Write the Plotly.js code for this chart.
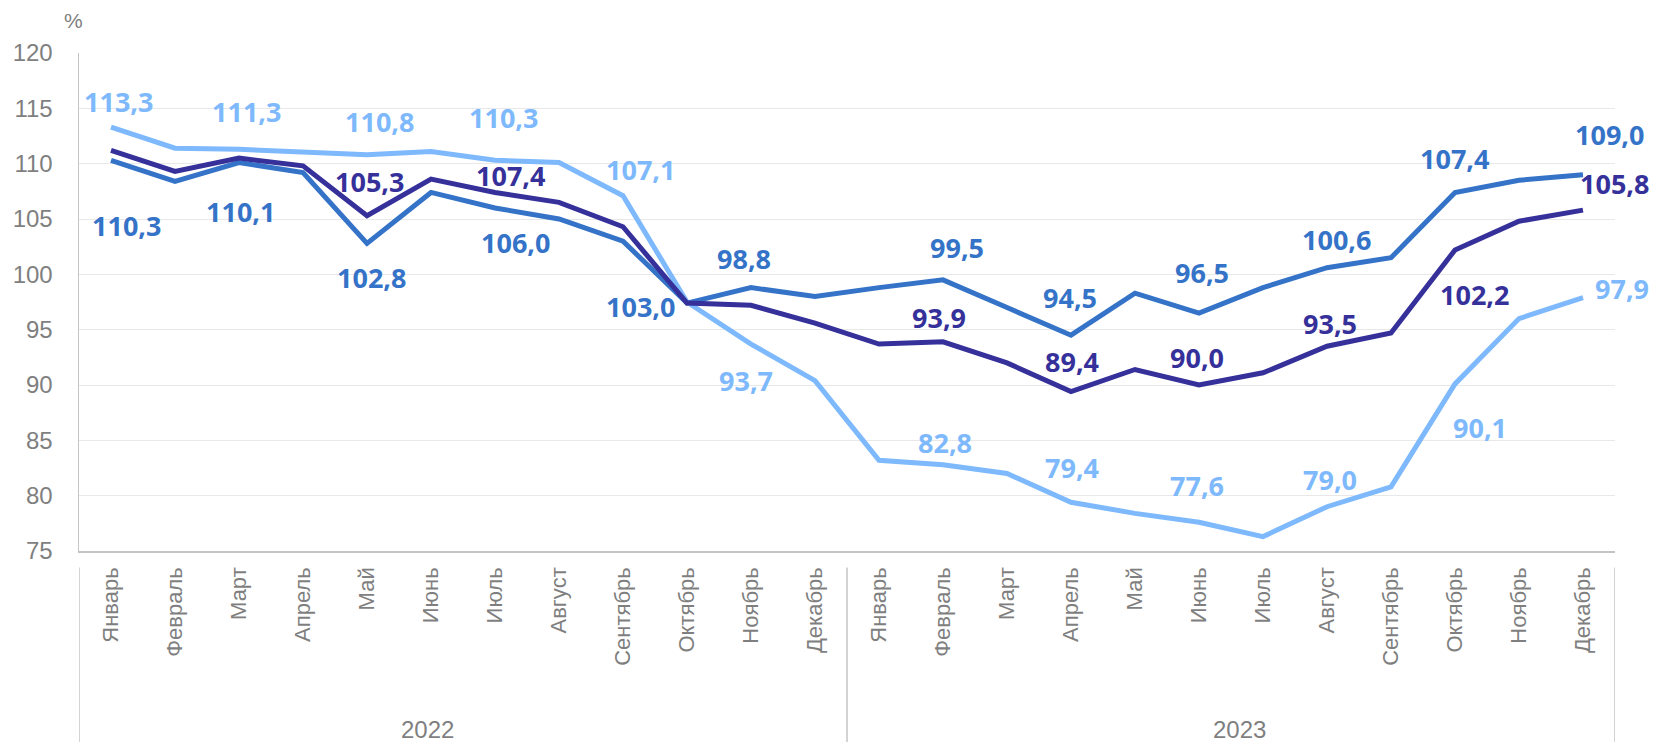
<!DOCTYPE html>
<html>
<head>
<meta charset="utf-8">
<script src="https://cdn.plot.ly/plotly-3.0.1.min.js"></script>
<style>html,body{margin:0;padding:0;background:#fff;}#chart{width:1653px;height:742px;}</style>
</head>
<body>
<div id="chart"></div>
<script>
// ---- data ----
const months = ['Январь','Февраль','Март','Апрель','Май','Июнь','Июль','Август','Сентябрь','Октябрь','Ноябрь','Декабрь'];
const years = ['2022','2023'];
const yAxisTicks = [75, 80, 85, 90, 95, 100, 105, 110, 115, 120];
const unitLabel = '%';

// light blue series
const seriesLight = [113.3, 111.4, 111.3, 111.1, 110.8, 111.1, 110.3, 110.1, 107.1, 97.5, 93.7, 90.4,
                     83.2, 82.8, 82.0, 79.4, 78.4, 77.6, 76.3, 79.0, 80.8, 90.1, 96.0, 97.9];
// medium blue series
const seriesMid = [110.3, 108.4, 110.1, 109.2, 102.8, 107.4, 106.0, 105.0, 103.0, 97.4, 98.8, 98.0,
                   98.8, 99.5, 97.0, 94.5, 98.3, 96.5, 98.8, 100.6, 101.5, 107.4, 108.5, 109.0];
// dark navy series
const seriesDark = [111.2, 109.3, 110.5, 109.8, 105.3, 108.6, 107.4, 106.5, 104.3, 97.4, 97.2, 95.6,
                    93.7, 93.9, 92.0, 89.4, 91.4, 90.0, 91.1, 93.5, 94.7, 102.2, 104.8, 105.8];

// which points carry a value label
const labelsLight = [0, 2, 4, 6, 8, 10, 13, 15, 17, 19, 21, 23];
const labelsMid   = [0, 2, 4, 6, 8, 10, 13, 15, 17, 19, 21, 23];
const labelsDark  = [4, 6, 13, 15, 17, 19, 21, 23];

// ---- styles (label pixel offsets from their point: [dx, dy], dy down) ----
const style = {
  light: {color: '#7DB9FC', offsets: [[7,-26],[7,-38],[12,-33],[8,-43],[17,-26],[-5,36],[2,-22],[1,-35],[-2,-37],[3,-27],[25,44],[39,-9]]},
  mid:   {color: '#3473C7', offsets: [[15,65],[1,49],[4,34],[20,35],[17,65],[-7,-29],[14,-32],[-1,-38],[3,-41],[9,-28],[-1,-34],[26,-40]]},
  dark:  {color: '#35309A', offsets: [[2,-34],[15,-17],[-4,-24],[1,-30],[-2,-28],[3,-23],[19,45],[31,-27]]},
  yearShift: [-36, 8],
  axisGray: '#c4c4c4', textGray: '#7f7f7f'
};

// category positions (index along the axis) built from the arrays
const xMonths = [], xYears = [];
years.forEach(y => months.forEach(m => { xYears.push(y); xMonths.push(m); }));
const xPos = xMonths.map((_, i) => i);

function lineTrace(vals, color) {
  return {type: 'scatter', mode: 'lines', x: xPos, y: vals,
          line: {color: color, width: 5}, hoverinfo: 'skip', showlegend: false};
}
const traces = [
  lineTrace(seriesLight, style.light.color),
  lineTrace(seriesMid, style.mid.color),
  lineTrace(seriesDark, style.dark.color)
];

const fmt = v => v.toFixed(1).replace('.', ',');
const annotations = [];
function addLabels(vals, idxs, st) {
  idxs.forEach((i, k) => {
    const off = st.offsets[k];
    annotations.push({
      xref: 'x', yref: 'y', x: xPos[i], y: vals[i], text: fmt(vals[i]),
      showarrow: false, xanchor: 'center', yanchor: 'middle',
      xshift: off[0], yshift: -off[1],
      font: {family: 'Open Sans, sans-serif', size: 27, color: st.color, weight: 700}
    });
  });
}
addLabels(seriesLight, labelsLight, style.light);
addLabels(seriesMid, labelsMid, style.mid);
addLabels(seriesDark, labelsDark, style.dark);

// unit label
annotations.push({
  xref: 'paper', yref: 'paper', x: 0, y: 1, xshift: -6, yshift: 33,
  text: unitLabel, showarrow: false, xanchor: 'center', yanchor: 'middle',
  font: {family: 'Liberation Sans, Arial, sans-serif', size: 21, color: style.textGray}
});

// year group labels + dividers
const shapes = [];
const n = months.length;
years.forEach((yr, g) => {
  const first = g * n, last = g * n + n - 1;
  annotations.push({
    xref: 'x', yref: 'paper', x: (xPos[first] + xPos[last]) / 2, y: -0.39,
    xshift: style.yearShift[g],
    text: yr, showarrow: false, xanchor: 'center', yanchor: 'bottom',
    font: {family: 'Liberation Sans, Arial, sans-serif', size: 24, color: style.textGray}
  });
});
const bounds = [xPos[0] - 0.5].concat(years.map((_, g) => xPos[g * n + n - 1] + 0.5));
bounds.forEach(b => shapes.push({
  type: 'line', xref: 'x', yref: 'paper', x0: b, x1: b, y0: -0.033, y1: -0.39,
  line: {color: style.axisGray, width: 1.5}
}));

const layout = {
  width: 1653, height: 742,
  margin: {l: 79, r: 38, t: 53, b: 191, pad: 0},
  paper_bgcolor: '#ffffff', plot_bgcolor: '#ffffff',
  showlegend: false,
  font: {family: 'Liberation Sans, Arial, sans-serif', color: style.textGray},
  xaxis: {
    range: [xPos[0] - 0.5, xPos[xPos.length - 1] + 0.5],
    tickvals: xPos, ticktext: xMonths,
    showline: true, linecolor: style.axisGray, linewidth: 1.5,
    showgrid: false, zeroline: false,
    ticks: '', tickangle: -90,
    ticklabelstandoff: 6,
    tickfont: {family: 'Liberation Sans, Arial, sans-serif', size: 22, color: style.textGray}
  },
  yaxis: {
    range: [75, 120], tickvals: yAxisTicks,
    showline: true, linecolor: style.axisGray, linewidth: 1.5,
    showgrid: true, gridcolor: '#e8e8e8', gridwidth: 1,
    zeroline: false, ticks: '', ticklabelstandoff: 20,
    tickfont: {family: 'Liberation Sans, Arial, sans-serif', size: 24, color: style.textGray}
  },
  shapes: shapes,
  annotations: annotations
};

Plotly.newPlot('chart', traces, layout, {displayModeBar: false, staticPlot: true});
</script>
</body>
</html>
